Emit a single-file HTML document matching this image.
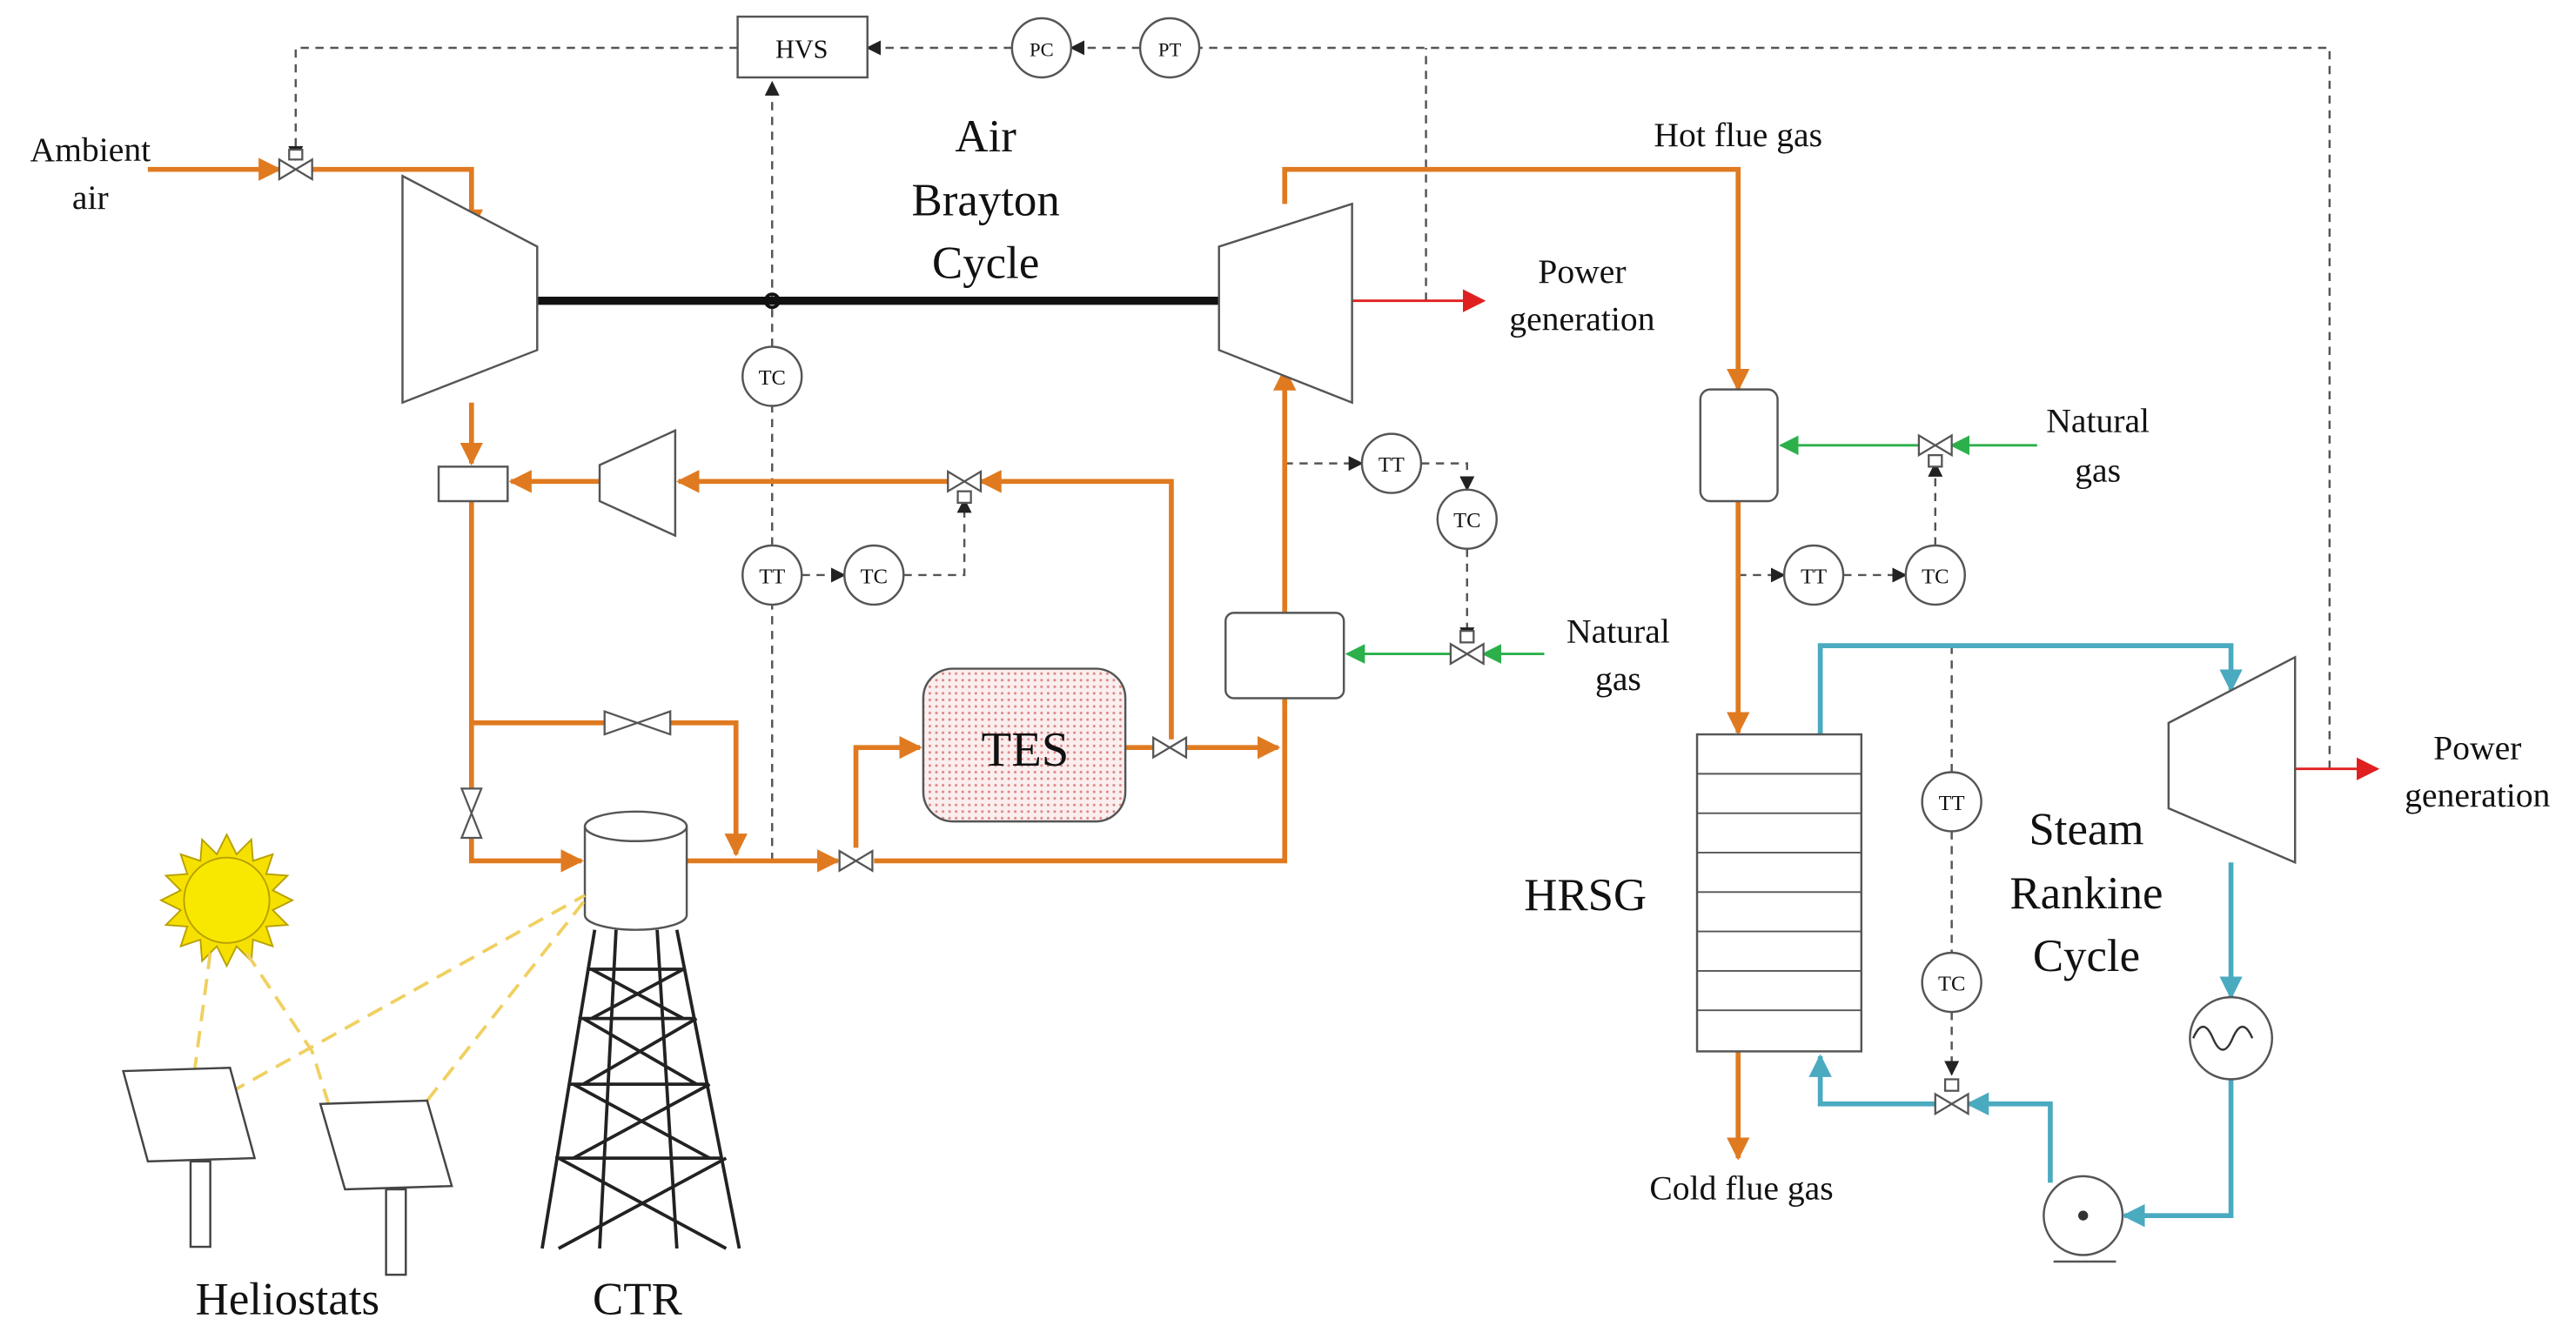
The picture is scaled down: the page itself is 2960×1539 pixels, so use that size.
<!DOCTYPE html>
<html><head><style>body{margin:0;background:#fff}svg{display:block}</style></head><body>
<svg width="2960" height="1539" viewBox="0 0 1568 815" xmlns="http://www.w3.org/2000/svg" font-family="Liberation Serif, serif">
<defs>
<marker id="ao" markerWidth="8" markerHeight="8" refX="7" refY="4" orient="auto" markerUnits="userSpaceOnUse"><path d="M0,0L14,4L0,8z" fill="#e07a20" transform="scale(0.57,1)"/></marker>
<marker id="aO" viewBox="0 0 10 10" refX="9" refY="5" markerWidth="14" markerHeight="14" orient="auto" markerUnits="userSpaceOnUse"><path d="M0,0L10,5L0,10z" fill="#e07a20"/></marker>
<marker id="aB" viewBox="0 0 10 10" refX="9" refY="5" markerWidth="14" markerHeight="14" orient="auto" markerUnits="userSpaceOnUse"><path d="M0,0L10,5L0,10z" fill="#4aaac0"/></marker>
<marker id="aG" viewBox="0 0 10 10" refX="9" refY="5" markerWidth="12" markerHeight="12" orient="auto" markerUnits="userSpaceOnUse"><path d="M0,0L10,5L0,10z" fill="#2bb04a"/></marker>
<marker id="aR" viewBox="0 0 10 10" refX="9" refY="5" markerWidth="14" markerHeight="14" orient="auto" markerUnits="userSpaceOnUse"><path d="M0,0L10,5L0,10z" fill="#e02020"/></marker>
<marker id="aK" viewBox="0 0 10 10" refX="9" refY="5" markerWidth="9" markerHeight="9" orient="auto" markerUnits="userSpaceOnUse"><path d="M0,0L10,5L0,10z" fill="#222"/></marker>
<pattern id="dots" width="4" height="4" patternUnits="userSpaceOnUse"><rect width="4" height="4" fill="#fbeeee"/><circle cx="2" cy="2" r="0.8" fill="#d88"/></pattern>
</defs>
<g stroke="#555" stroke-width="1.3" fill="none" stroke-dasharray="5,4">
<path d="M1418,468V29H720" marker-end="url(#aK)"/>
<path d="M694,29H652" marker-end="url(#aK)"/>
<path d="M616,29H528" marker-end="url(#aK)"/>
<path d="M868,183V29"/>
<path d="M449,29H180V97" marker-end="url(#aK)"/>
<path d="M470,524V368"/><path d="M470,332V247"/><path d="M470,211V50" marker-end="url(#aK)"/>
<path d="M488,350H514" marker-end="url(#aK)"/>
<path d="M550,350H587V304" marker-end="url(#aK)"/>
<path d="M782,282H829" marker-end="url(#aK)"/>
<path d="M865,282H893V298" marker-end="url(#aK)"/>
<path d="M893,334V390" marker-end="url(#aK)"/>
<path d="M1058,350H1086" marker-end="url(#aK)"/>
<path d="M1122,350H1160" marker-end="url(#aK)"/>
<path d="M1178,332V282" marker-end="url(#aK)"/>
<path d="M1188,393V470"/><path d="M1188,506V580"/><path d="M1188,616V654" marker-end="url(#aK)"/>
</g>
<g stroke="#e07a20" stroke-width="3" fill="none">
<path d="M90,103H170" marker-end="url(#aO)"/>
<path d="M190,103H287V140" marker-end="url(#aO)"/>
<path d="M287,245V282" marker-end="url(#aO)"/>
<path d="M713,450V293H597" marker-end="url(#aO)"/>
<path d="M577,293H413" marker-end="url(#aO)"/>
<path d="M365,293H311" marker-end="url(#aO)"/>
<path d="M287,305V480"/>
<path d="M287,510V524H354" marker-end="url(#aO)"/>
<path d="M287,440H368"/><path d="M408,440H448V520" marker-end="url(#aO)"/>
<path d="M418,524H510" marker-end="url(#aO)"/>
<path d="M532,524H782V430"/>
<path d="M521,516V455H560" marker-end="url(#aO)"/>
<path d="M685,455H702"/><path d="M722,455H778" marker-end="url(#aO)"/>
<path d="M782,425V430"/><path d="M782,373V225" marker-end="url(#aO)"/>
<path d="M782,124V103H1058V237" marker-end="url(#aO)"/>
<path d="M1058,305V446" marker-end="url(#aO)"/>
<path d="M1058,640V705" marker-end="url(#aO)"/>
</g>
<g stroke="#4aaac0" stroke-width="3" fill="none">
<path d="M1108,447V393H1358V420" marker-end="url(#aB)"/>
<path d="M1358,525V607" marker-end="url(#aB)"/>
<path d="M1358,657V740H1293" marker-end="url(#aB)"/>
<path d="M1248,720V672H1198" marker-end="url(#aB)"/>
<path d="M1178,672H1108V643" marker-end="url(#aB)"/>
</g>
<g stroke="#2bb04a" stroke-width="1.5" fill="none">
<path d="M940,398H903" marker-end="url(#aG)"/><path d="M883,398H820" marker-end="url(#aG)"/>
<path d="M1240,271H1188" marker-end="url(#aG)"/><path d="M1168,271H1084" marker-end="url(#aG)"/>
</g>
<g stroke="#e02020" stroke-width="1.5"><path d="M823,183H903" marker-end="url(#aR)"/><path d="M1397,468H1447" marker-end="url(#aR)"/></g>
<path d="M327,183H742" stroke="#111" stroke-width="5"/>
<circle cx="470" cy="183" r="4" fill="none" stroke="#111" stroke-width="2"/>
<g fill="#fff" stroke="#555" stroke-width="1.3">
<rect x="449" y="10" width="79" height="37"/>
<circle cx="634" cy="29" r="18"/><circle cx="712" cy="29" r="18"/>
<polygon points="245,107 327,150 327,213 245,245"/>
<polygon points="742,150 823,124 823,245 742,213"/>
<rect x="267" y="284" width="42" height="21"/>
<polygon points="365,283 411,262 411,326 365,305"/>
<circle cx="470" cy="229" r="18"/><circle cx="470" cy="350" r="18"/><circle cx="532" cy="350" r="18"/>
<circle cx="847" cy="282" r="18"/><circle cx="893" cy="316" r="18"/>
<rect x="746" y="373" width="72" height="52" rx="5"/>
<rect x="1035" y="237" width="47" height="68" rx="6"/>
<circle cx="1104" cy="350" r="18"/><circle cx="1178" cy="350" r="18"/>
<rect x="1033" y="447" width="100" height="193"/>
<polygon points="1320,440 1397,400 1397,525 1320,492"/>
<circle cx="1188" cy="488" r="18"/><circle cx="1188" cy="598" r="18"/>
<circle cx="1358" cy="632" r="25"/>
<circle cx="1268" cy="740" r="24"/>
<path d="M1250,768H1288" />
<path d="M356,503V557A31,9 0 0 0 418,557V503"/>
<ellipse cx="387" cy="503" rx="31" ry="9"/>
</g>
<rect x="562" y="407" width="123" height="93" rx="18" fill="url(#dots)" stroke="#555" stroke-width="1.3"/>
<g stroke="#555" stroke-width="1"><path d="M1033,471H1133M1033,495H1133M1033,519H1133M1033,543H1133M1033,567H1133M1033,591H1133M1033,615H1133"/></g>
<path d="M1335,632q6,-14 12,0t12,0t12,0" fill="none" stroke="#333" stroke-width="1.3"/>
<circle cx="1268" cy="740" r="3" fill="#333"/>
<!-- valves -->
<g fill="#fff" stroke="#555" stroke-width="1.2">
<path d="M170,97L190,109V97L170,109Z"/><path d="M577,287L597,299V287L577,299Z"/><path d="M702,449L722,461V449L702,461Z"/>
<path d="M368,433L408,447V433L368,447Z"/><path d="M281,480L293,510H281L293,480Z"/><path d="M511,518L531,530V518L511,530Z"/>
<path d="M883,392L903,404V392L883,404Z"/><path d="M1168,265L1188,277V265L1168,277Z"/><path d="M1178,666L1198,678V666L1178,678Z"/>
<rect x="176" y="91" width="8" height="6"/><rect x="583" y="299" width="8" height="7"/><rect x="889" y="384" width="8" height="7"/><rect x="1174" y="277" width="8" height="7"/><rect x="1184" y="657" width="8" height="7"/>
</g>
<!-- tower -->
<g stroke="#222" stroke-width="2" fill="none">
<path d="M362,566L330,760M412,566L450,760M375,566L365,760M400,566L412,760"/>
<path d="M360,590L416,620M416,590L360,620M355,620L424,660M424,620L355,660M349,660L432,705M432,660L349,705M340,705L442,760M442,705L340,760M358,590H416M352,620H422M346,660H430M338,705H440"/>
</g>
<!-- sun -->
<g transform="translate(138,548)">
<polygon fill="#f5e000" stroke="#b8a000" stroke-width="1" points="0,-40 6,-28 15,-37 16,-24 28,-28 24,-16 37,-15 28,-6 40,0 28,6 37,15 24,16 28,28 16,24 15,37 6,28 0,40 -6,28 -15,37 -16,24 -28,28 -24,16 -37,15 -28,6 -40,0 -28,-6 -37,-15 -24,-16 -28,-28 -16,-24 -15,-37 -6,-28"/>
<circle r="26" fill="#f8e800" stroke="#b8a000"/>
</g>
<g stroke="#f0d060" stroke-width="2" stroke-dasharray="10,6" fill="none">
<path d="M128,580L118,655M150,580L190,640L200,672M140,665L356,545M260,670L356,548"/>
</g>
<g fill="#fff" stroke="#444" stroke-width="1.3">
<polygon points="75,652 140,650 155,705 90,707"/><rect x="116" y="707" width="12" height="52"/>
<polygon points="195,672 260,670 275,722 210,724"/><rect x="235" y="724" width="12" height="52"/>
</g>
<g fill="#111" text-anchor="middle">
<text x="488" y="35" font-size="16">HVS</text>
<text x="634" y="34" font-size="12">PC</text><text x="712" y="34" font-size="12">PT</text>
<text x="470" y="234" font-size="13">TC</text><text x="470" y="355" font-size="13">TT</text><text x="532" y="355" font-size="13">TC</text>
<text x="847" y="287" font-size="13">TT</text><text x="893" y="321" font-size="13">TC</text>
<text x="1104" y="355" font-size="13">TT</text><text x="1178" y="355" font-size="13">TC</text>
<text x="1188" y="493" font-size="13">TT</text><text x="1188" y="603" font-size="13">TC</text>
<text x="55" y="98" font-size="21">Ambient</text><text x="55" y="127" font-size="21">air</text>
<text x="600" y="92" font-size="28">Air</text><text x="600" y="131" font-size="28">Brayton</text><text x="600" y="169" font-size="28">Cycle</text>
<text x="963" y="172" font-size="21">Power</text><text x="963" y="201" font-size="21">generation</text>
<text x="1058" y="89" font-size="21">Hot flue gas</text>
<text x="1277" y="263" font-size="21">Natural</text><text x="1277" y="293" font-size="21">gas</text>
<text x="985" y="391" font-size="21">Natural</text><text x="985" y="420" font-size="21">gas</text>
<text x="624" y="466" font-size="30">TES</text>
<text x="965" y="554" font-size="28">HRSG</text>
<text x="1270" y="514" font-size="28">Steam</text><text x="1270" y="553" font-size="28">Rankine</text><text x="1270" y="591" font-size="28">Cycle</text>
<text x="1508" y="462" font-size="21">Power</text><text x="1508" y="491" font-size="21">generation</text>
<text x="1060" y="730" font-size="21">Cold flue gas</text>
<text x="175" y="800" font-size="28">Heliostats</text><text x="388" y="800" font-size="28">CTR</text>
</g>
</svg>
</body></html>
